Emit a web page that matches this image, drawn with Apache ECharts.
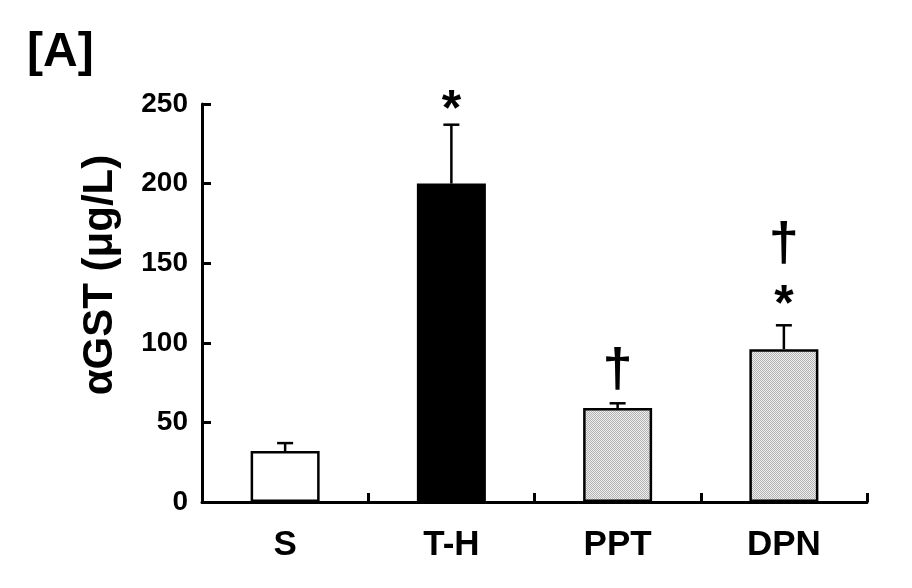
<!DOCTYPE html>
<html>
<head>
<meta charset="utf-8">
<script src="https://cdn.jsdelivr.net/npm/echarts@6/dist/echarts.min.js"></script>
<style>
html,body{margin:0;padding:0;background:#fff;}
#chart{width:912px;height:588px;}
</style>
</head>
<body>
<div id="chart"></div>
<script>
const categories = ['S', 'T-H', 'PPT', 'DPN'];
const means = [32, 200, 59, 96];
const errorTops = [37, 237, 62, 111];
const annotations = [[], ['*'], ['†'], ['*', '†']];
const yTicks = [0, 50, 100, 150, 200, 250];
const yTitle = 'αGST (μg/L)';
const panelLabel = '[A]';

const FONT = '"Liberation Sans", Arial, sans-serif';

function makeStipple() {
  const c = document.createElement('canvas');
  c.width = 2; c.height = 2;
  const ctx = c.getContext('2d');
  ctx.fillStyle = '#ececec'; ctx.fillRect(0, 0, 2, 2);
  ctx.fillStyle = '#b4b4b4'; ctx.fillRect(0, 0, 1, 1); ctx.fillRect(1, 1, 1, 1);
  return c;
}
const stipple = {image: makeStipple(), repeat: 'repeat'};
const barColors = ['#ffffff', '#000000', stipple, stipple];

const chart = echarts.init(document.getElementById('chart'), null, {renderer: 'canvas'});

const option = {
  animation: false,
  backgroundColor: '#ffffff',
  title: {
    text: panelLabel,
    left: 22, top: 24,
    textStyle: {fontFamily: FONT, fontWeight: 'bold', fontSize: 48, color: '#000'}
  },
  graphic: [{
    type: 'text',
    x: 100, y: 275,
    rotation: Math.PI / 2,
    style: {text: yTitle, font: 'bold 42px ' + FONT, fill: '#000', textAlign: 'center', textVerticalAlign: 'middle'}
  }],
  grid: {left: 202, right: 45, top: 104, bottom: 86},
  xAxis: {
    type: 'category',
    data: categories,
    boundaryGap: true,
    axisLine: {lineStyle: {color: '#000', width: 3}},
    axisTick: {show: true, inside: true, length: 9, lineStyle: {color: '#000', width: 3}},
    axisLabel: {fontFamily: FONT, fontWeight: 'bold', fontSize: 35, color: '#000', margin: 26}
  },
  yAxis: {
    type: 'value',
    min: yTicks[0], max: yTicks[yTicks.length - 1], interval: yTicks[1] - yTicks[0],
    axisLine: {show: true, lineStyle: {color: '#000', width: 3}},
    axisTick: {show: true, inside: true, length: 9, lineStyle: {color: '#000', width: 3}},
    splitLine: {show: false},
    axisLabel: {fontFamily: FONT, fontWeight: 'bold', fontSize: 28, color: '#000', margin: 14}
  },
  series: [
    {
      type: 'bar',
      data: means.map((v, i) => ({value: v, itemStyle: {color: barColors[i]}})),
      barWidth: 69,
      itemStyle: {borderColor: '#000', borderWidth: 2.5},
      z: 2
    },
    {
      type: 'custom',
      data: errorTops.map((v, i) => [i, means[i], v]),
      renderItem: function (params, api) {
        const base = api.coord([api.value(0), api.value(1)]);
        const top = api.coord([api.value(0), api.value(2)]);
        const half = 8;
        return {
          type: 'group',
          children: [
            {type: 'line', shape: {x1: base[0], y1: base[1], x2: top[0], y2: top[1]}, style: {stroke: '#000', lineWidth: 2.5}},
            {type: 'line', shape: {x1: top[0] - half, y1: top[1], x2: top[0] + half, y2: top[1]}, style: {stroke: '#000', lineWidth: 2.5}}
          ]
        };
      },
      z: 3
    },
    {
      type: 'custom',
      data: errorTops.map((v, i) => [i, v]),
      renderItem: function (params, api) {
        const idx = params.dataIndex;
        const top = api.coord([api.value(0), api.value(1)]);
        const marks = annotations[idx];
        const children = [];
        let y = top[1] - (marks.length > 1 ? 6 : 0);
        marks.forEach(function (m) {
          if (m === '*') {
            children.push({type: 'text', style: {text: '*', x: top[0], y: y + 12, textAlign: 'center', textVerticalAlign: 'bottom', font: 'bold 50px ' + FONT, fill: '#000'}});
            y -= 42;
          } else {
            children.push({type: 'text', style: {text: '†', x: top[0], y: y - 5, textAlign: 'center', textVerticalAlign: 'bottom', font: 'bold 54px ' + FONT, fill: '#000'}});
            y -= 54;
          }
        });
        return {type: 'group', children: children};
      },
      z: 4
    }
  ]
};
chart.setOption(option);
</script>
</body>
</html>
